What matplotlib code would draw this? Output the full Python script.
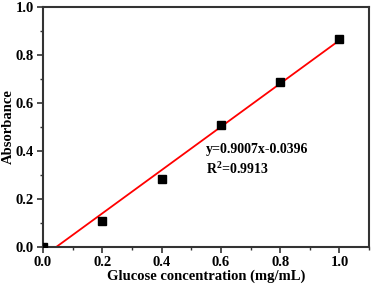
import matplotlib
matplotlib.use('Agg')
import matplotlib.pyplot as plt
import numpy as np
from matplotlib.ticker import MultipleLocator

# Calibration data
conc = [0.0, 0.2, 0.4, 0.6, 0.8, 1.0]
absorb = [0.0, 0.108, 0.285, 0.51, 0.689, 0.868]
slope = 0.9007
intercept = -0.0396
fit_x = [0.044, 1.0]

plt.rcParams['font.family'] = 'Liberation Serif'
plt.rcParams['font.weight'] = 'bold'
plt.rcParams['mathtext.fontset'] = 'custom'
plt.rcParams['mathtext.rm'] = 'Liberation Serif:bold'
plt.rcParams['mathtext.bf'] = 'Liberation Serif:bold'

fig = plt.figure(figsize=(3.71, 2.87), dpi=100)
ax = fig.add_axes([0.116, 0.139, 0.879, 0.837])

fx = np.array(fit_x)
ax.plot(fx, slope * fx + intercept, color='red', lw=1.3, zorder=2)
ax.plot(conc, absorb, 's', color='black', ms=5.5, zorder=3)

ax.set_xlim(0, 1.1)
ax.set_ylim(0, 1.0)
ax.xaxis.set_major_locator(MultipleLocator(0.2))
ax.yaxis.set_major_locator(MultipleLocator(0.2))
ax.xaxis.set_minor_locator(MultipleLocator(0.1))
ax.yaxis.set_minor_locator(MultipleLocator(0.1))
ax.tick_params(which='major', direction='out', length=4, width=1.2, labelsize=10.5, color='#333333', pad=2.5)
ax.tick_params(which='minor', direction='out', length=2.5, width=1.0, color='#333333')
ax.xaxis.set_major_formatter(plt.FormatStrFormatter('%.1f'))
ax.yaxis.set_major_formatter(plt.FormatStrFormatter('%.1f'))
for s in ax.spines.values():
    s.set_linewidth(1.5)
    s.set_color('#333333')

ax.set_xlabel('Glucose concentration (mg/mL)', fontsize=10.5, fontweight='bold', labelpad=0)
ax.set_ylabel('Absorbance', fontsize=10.5, fontweight='bold', labelpad=1)

ax.text(0.55, 0.39, 'y=0.9007x-0.0396', fontsize=10, fontweight='bold')
ax.text(0.55, 0.305, r'R$^{2}$=0.9913', fontsize=10, fontweight='bold')

fig.savefig('out.png', dpi=100)
